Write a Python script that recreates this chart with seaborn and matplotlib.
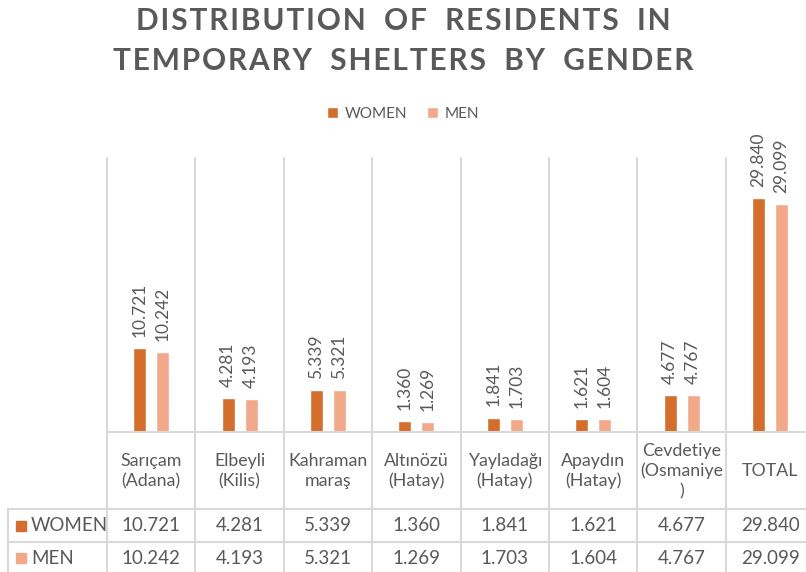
import pandas as pd
import numpy as np
import matplotlib.pyplot as plt
import seaborn as sns
from matplotlib.transforms import blended_transform_factory
from matplotlib.lines import Line2D

sns.set_style('white')
plt.rcParams['font.family'] = ['Lato', 'DejaVu Sans']

# data
places = ['Sarıçam\n(Adana)', 'Elbeyli\n(Kilis)', 'Kahraman\nmaraş', 'Altınözü\n(Hatay)',
          'Yayladağı\n(Hatay)', 'Apaydın\n(Hatay)', 'Cevdetiye\n(Osmaniye\n)', 'TOTAL']
women = [10.721, 4.281, 5.339, 1.360, 1.841, 1.621, 4.677, 29.840]
men = [10.242, 4.193, 5.321, 1.269, 1.703, 1.604, 4.767, 29.099]
groups = ['WOMEN', 'MEN']
title_lines = ['DISTRIBUTION OF RESIDENTS IN', 'TEMPORARY SHELTERS BY GENDER']
colores = ['#D36E2D', '#F2A98A']
gris = '#595959'
linea = '#D9D9D9'

df = pd.DataFrame({'place': places * 2,
                   'gender': ['WOMEN'] * len(places) + ['MEN'] * len(places),
                   'value': women + men})

W, H = 806, 572
fig = plt.figure(figsize=(W / 100, H / 100), dpi=100)

# plot area in pixels: x 107 -> 107+8*88.4, y 158 -> 432
catw = 88.4
base, top = 432, 158
ax = fig.add_axes([107 / W, (H - base) / H, 8 * catw / W, (base - top) / H])

sns.barplot(data=df, x='place', y='value', hue='gender', hue_order=groups,
            palette=colores, width=0.52, gap=0.43, saturation=1, ax=ax)
ax.set_xlim(-0.5, len(places) - 0.5)
ax.set_ylim(0, 35)
ax.set_xlabel('')
ax.set_ylabel('')
ax.set_xticks([])
ax.set_yticks([])
sns.despine(ax=ax, left=True, bottom=True)

# etiquetas sobre las barras
for cont in ax.containers:
    ax.bar_label(cont, labels=[f'{v:.3f}' for v in cont.datavalues], rotation=90,
                 padding=8, fontsize=12.5, color=gris)

# leyenda arriba
sns.move_legend(ax, 'center', bbox_to_anchor=(0.5, 1 - 114 / H), bbox_transform=fig.transFigure,
                ncol=2, title=None, frameon=False, fontsize=11, handlelength=0.75,
                handleheight=0.75, handletextpad=0.4, columnspacing=1.3, labelcolor=gris)

# tabla de datos
fy = lambda p: (base - p) / (base - top)  # pixel y -> axes fraction
tr = blended_transform_factory(ax.transData, ax.transAxes)
lw = 1.5
for i in range(len(places) + 1):
    ax.add_line(Line2D([i - 0.5, i - 0.5], [1, fy(H + 5)], transform=tr, color=linea,
                       lw=lw, clip_on=False))
ax.add_line(Line2D([-0.5, len(places)], [0, 0], transform=tr, color=linea, lw=lw, clip_on=False))

# lineas que cruzan tambien la columna de la leyenda (en pixeles de figura)
for yp in [509, 542]:
    fig.add_artist(Line2D([8 / W, 1], [1 - yp / H] * 2, color=linea, lw=lw))
fig.add_artist(Line2D([8 / W, 8 / W], [1 - 509 / H, 0], color=linea, lw=lw))

for i, p in enumerate(places):
    ax.text(i, fy(471), p, transform=tr, ha='center', va='center', fontsize=12.8,
            color=gris, linespacing=1.3, clip_on=False)
    ax.text(i, fy(525.5), f'{women[i]:.3f}', transform=tr, ha='center', va='center',
            fontsize=13.5, color=gris, clip_on=False)
    ax.text(i, fy(558), f'{men[i]:.3f}', transform=tr, ha='center', va='center',
            fontsize=13.5, color=gris, clip_on=False)

for yp, g, c in [(525.5, 'WOMEN', colores[0]), (558, 'MEN', colores[1])]:
    fig.patches.append(plt.Rectangle((16 / W, 1 - (yp + 5) / H), 10 / W, 10 / H,
                                     transform=fig.transFigure, color=c))
    fig.text(31 / W, 1 - yp / H, g, ha='left', va='center', fontsize=13.5, color=gris)

# titulo con espaciado entre letras
def espaciado(s):
    return '\u200a'.join(s).replace(' ', '  ')

for k, t in enumerate(title_lines):
    fig.text(0.5, 1 - (21 + 40 * k) / H, espaciado(t), ha='center', va='center',
             fontsize=21.5, fontweight='bold', color=gris)

fig.savefig('out.png', dpi=100)
